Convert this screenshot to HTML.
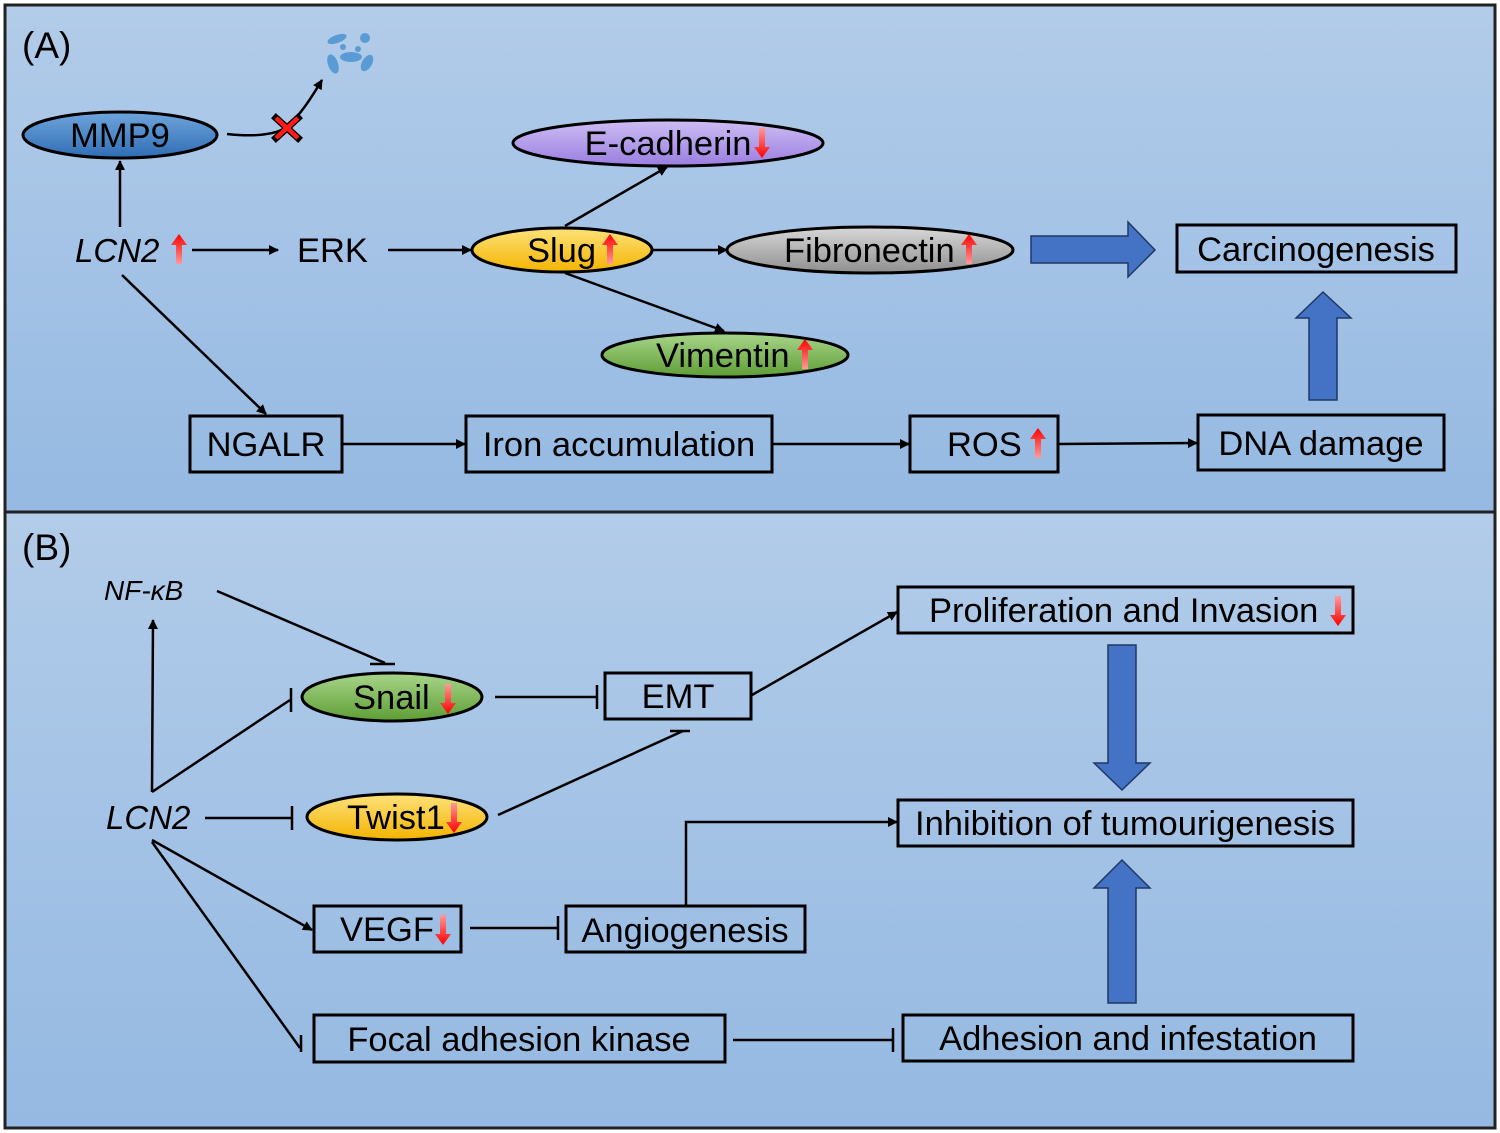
<!DOCTYPE html>
<html><head><meta charset="utf-8"><style>
html,body{margin:0;padding:0;background:#fff}
svg{display:block}
text{font-family:"Liberation Sans",Arial,sans-serif;fill:#000}
</style></head><body>
<svg width="1500" height="1133" viewBox="0 0 1500 1133" xmlns="http://www.w3.org/2000/svg">
<defs>
<linearGradient id="bgA" x1="0" y1="0" x2="0" y2="1"><stop offset="0" stop-color="#b2cce9"/><stop offset="1" stop-color="#95b9e2"/></linearGradient>
<linearGradient id="gBlue" x1="0" y1="0" x2="0" y2="1"><stop offset="0" stop-color="#6fa5dc"/><stop offset="1" stop-color="#2f6db4"/></linearGradient>
<linearGradient id="gPur" x1="0" y1="0" x2="0" y2="1"><stop offset="0" stop-color="#cdbdf3"/><stop offset="1" stop-color="#9a7ee0"/></linearGradient>
<linearGradient id="gYel" x1="0" y1="0" x2="0" y2="1"><stop offset="0" stop-color="#fde27a"/><stop offset="1" stop-color="#f4b400"/></linearGradient>
<linearGradient id="gGray" x1="0" y1="0" x2="0" y2="1"><stop offset="0" stop-color="#d8d8d8"/><stop offset="1" stop-color="#8f8f8f"/></linearGradient>
<linearGradient id="gGrn" x1="0" y1="0" x2="0" y2="1"><stop offset="0" stop-color="#a8d58a"/><stop offset="1" stop-color="#5e9e35"/></linearGradient>
<linearGradient id="rUp" x1="0" y1="0" x2="0" y2="1"><stop offset="0" stop-color="#ff0000"/><stop offset="1" stop-color="#ff9a9a"/></linearGradient>
<linearGradient id="rDn" x1="0" y1="1" x2="0" y2="0"><stop offset="0" stop-color="#ff0000"/><stop offset="1" stop-color="#ff9a9a"/></linearGradient>
<marker id="ah" markerWidth="10" markerHeight="10" refX="9" refY="5" orient="auto" markerUnits="userSpaceOnUse"><path d="M0,0 L10,5 L0,10 Z" fill="#000"/></marker>
<symbol id="up" viewBox="0 0 16 30" width="16" height="30"><path d="M8,0 L16,11 L11,11 L11,30 L5,30 L5,11 L0,11 Z" fill="url(#rUp)"/></symbol>
<symbol id="dn" viewBox="0 0 16 30" width="16" height="30"><path d="M8,30 L16,19 L11,19 L11,0 L5,0 L5,19 L0,19 Z" fill="url(#rDn)"/></symbol>
</defs>
<rect x="0" y="0" width="1500" height="1133" fill="#fff"/>
<rect x="5" y="5" width="1490" height="507" fill="url(#bgA)" stroke="#222" stroke-width="3"/>
<rect x="5" y="512" width="1490" height="616" fill="url(#bgA)" stroke="#222" stroke-width="3"/>

<g stroke="#000" stroke-width="2.5" fill="none">
<line x1="120" y1="227" x2="120" y2="161" marker-end="url(#ah)"/>
<path d="M227,134 C255,137 275,135 287,127 C300,115 310,100 322,80" marker-end="url(#ah)"/>
<line x1="192" y1="250" x2="278" y2="250" marker-end="url(#ah)"/>
<line x1="388" y1="250" x2="471" y2="250" marker-end="url(#ah)"/>
<line x1="565" y1="226" x2="667" y2="167" marker-end="url(#ah)"/>
<line x1="652" y1="250" x2="727" y2="250" marker-end="url(#ah)"/>
<line x1="565" y1="273" x2="724" y2="331" marker-end="url(#ah)"/>
<line x1="122" y1="275" x2="266" y2="414" marker-end="url(#ah)"/>
<line x1="343" y1="444" x2="465" y2="444" marker-end="url(#ah)"/>
<line x1="773" y1="444" x2="909" y2="444" marker-end="url(#ah)"/>
<line x1="1059" y1="444" x2="1197" y2="443" marker-end="url(#ah)"/>
<line x1="152" y1="792" x2="153" y2="620" marker-end="url(#ah)"/>
<line x1="152" y1="792" x2="290" y2="700"/><line x1="291" y1="688" x2="291" y2="712"/>
<line x1="217" y1="591" x2="385" y2="663"/><line x1="370" y1="664" x2="395" y2="664"/>
<line x1="495" y1="697" x2="597" y2="697"/><line x1="597" y1="685" x2="597" y2="709"/>
<line x1="205" y1="818" x2="292" y2="818"/><line x1="292" y1="806" x2="292" y2="830"/>
<line x1="498" y1="815" x2="683" y2="731"/><line x1="670" y1="731" x2="690" y2="731"/>
<line x1="752" y1="695" x2="897" y2="612" marker-end="url(#ah)"/>
<line x1="152" y1="840" x2="312" y2="930" marker-end="url(#ah)"/>
<line x1="152" y1="842" x2="300" y2="1048"/><line x1="301" y1="1035" x2="301" y2="1052"/>
<line x1="470" y1="928" x2="558" y2="928"/><line x1="558" y1="916" x2="558" y2="940"/>
<path d="M686,906 L686,822 L897,822" marker-end="url(#ah)"/>
<line x1="733" y1="1040" x2="893" y2="1040"/><line x1="893" y1="1028" x2="893" y2="1052"/>
</g>

<g stroke="#000" stroke-width="7" stroke-linecap="square"><line x1="276" y1="118" x2="298" y2="138"/><line x1="276" y1="138" x2="298" y2="118"/></g>
<g stroke="#ff1a1a" stroke-width="4.5"><line x1="276" y1="118" x2="298" y2="138"/><line x1="276" y1="138" x2="298" y2="118"/></g>
<g fill="#5b9bd5"><ellipse cx="337" cy="39" rx="10" ry="4" transform="rotate(-20 337 39)"/><circle cx="365" cy="38" r="5"/><circle cx="343" cy="47" r="3"/><circle cx="358" cy="49" r="3"/><ellipse cx="351" cy="57" rx="11" ry="5"/><ellipse cx="333" cy="64" rx="5" ry="10" transform="rotate(-20 333 64)"/><ellipse cx="367" cy="63" rx="5" ry="9" transform="rotate(30 367 63)"/></g>

<g stroke="#000" stroke-width="3">
<ellipse cx="120" cy="135" rx="97" ry="23" fill="url(#gBlue)"/>
<ellipse cx="668" cy="143" rx="155" ry="23" fill="url(#gPur)"/>
<ellipse cx="562" cy="250" rx="90" ry="22" fill="url(#gYel)"/>
<ellipse cx="870" cy="250" rx="143" ry="23" fill="url(#gGray)"/>
<ellipse cx="725" cy="355" rx="123" ry="22" fill="url(#gGrn)"/>
<ellipse cx="392" cy="697" rx="90" ry="24" fill="url(#gGrn)"/>
<ellipse cx="397" cy="817" rx="90" ry="23" fill="url(#gYel)"/>
</g>
<g stroke="#000" stroke-width="3" fill="none">
<rect x="190" y="416" width="152" height="56"/>
<rect x="466" y="416" width="306" height="56"/>
<rect x="910" y="416" width="148" height="56"/>
<rect x="1198" y="415" width="246" height="55"/>
<rect x="1177" y="225" width="279" height="47"/>
<rect x="605" y="673" width="146" height="46"/>
<rect x="898" y="587" width="455" height="46"/>
<rect x="898" y="800" width="455" height="46"/>
<rect x="314" y="906" width="147" height="46"/>
<rect x="566" y="906" width="239" height="46"/>
<rect x="314" y="1015" width="411" height="47"/>
<rect x="903" y="1015" width="450" height="46"/>
</g>
<g fill="#4472c4" stroke="#1f3864" stroke-width="1.5">
<path d="M1031,236 L1128,236 L1128,222 L1155,250 L1128,277 L1128,263 L1031,263 Z"/>
<path d="M1309,400 L1309,318 L1296,318 L1323,292 L1351,318 L1337,318 L1337,400 Z"/>
<path d="M1108,645 L1136,645 L1136,763 L1150,763 L1122,790 L1094,763 L1108,763 Z"/>
<path d="M1108,1003 L1108,888 L1094,888 L1122,860 L1150,888 L1136,888 L1136,1003 Z"/>
</g>

<g font-size="34.5">
<text x="22" y="58" font-size="37">(A)</text>
<text x="22" y="560" font-size="37">(B)</text>
<text x="120" y="147" text-anchor="middle">MMP9</text>
<text x="75" y="262" font-style="italic" font-size="33">LCN2</text>
<text x="297" y="262">ERK</text>
<text x="668" y="155" text-anchor="middle">E-cadherin</text>
<text x="527" y="262">Slug</text>
<text x="784" y="262">Fibronectin</text>
<text x="656" y="367">Vimentin</text>
<text x="266" y="456" text-anchor="middle">NGALR</text>
<text x="619" y="456" text-anchor="middle">Iron accumulation</text>
<text x="947" y="456">ROS</text>
<text x="1321" y="455" text-anchor="middle">DNA damage</text>
<text x="1316" y="261" text-anchor="middle">Carcinogenesis</text>
<text x="104" y="600" font-size="28" font-style="italic">NF-κB</text>
<text x="106" y="829" font-style="italic" font-size="33">LCN2</text>
<text x="353" y="709">Snail</text>
<text x="347" y="829">Twist1</text>
<text x="678" y="708" text-anchor="middle">EMT</text>
<text x="929" y="622">Proliferation and Invasion</text>
<text x="1125" y="835" text-anchor="middle">Inhibition of tumourigenesis</text>
<text x="340" y="941">VEGF</text>
<text x="685" y="942" text-anchor="middle">Angiogenesis</text>
<text x="519" y="1051" text-anchor="middle">Focal adhesion kinase</text>
<text x="1128" y="1050" text-anchor="middle">Adhesion and infestation</text>
</g>
<use href="#up" x="171" y="234"/>
<use href="#dn" x="754" y="128"/>
<use href="#up" x="602" y="234"/>
<use href="#up" x="961" y="234"/>
<use href="#up" x="797" y="339"/>
<use href="#up" x="1030" y="428"/>
<use href="#dn" x="440" y="684"/>
<use href="#dn" x="446" y="803"/>
<use href="#dn" x="1330" y="596"/>
<use href="#dn" x="435" y="915"/>
</svg>
</body></html>
